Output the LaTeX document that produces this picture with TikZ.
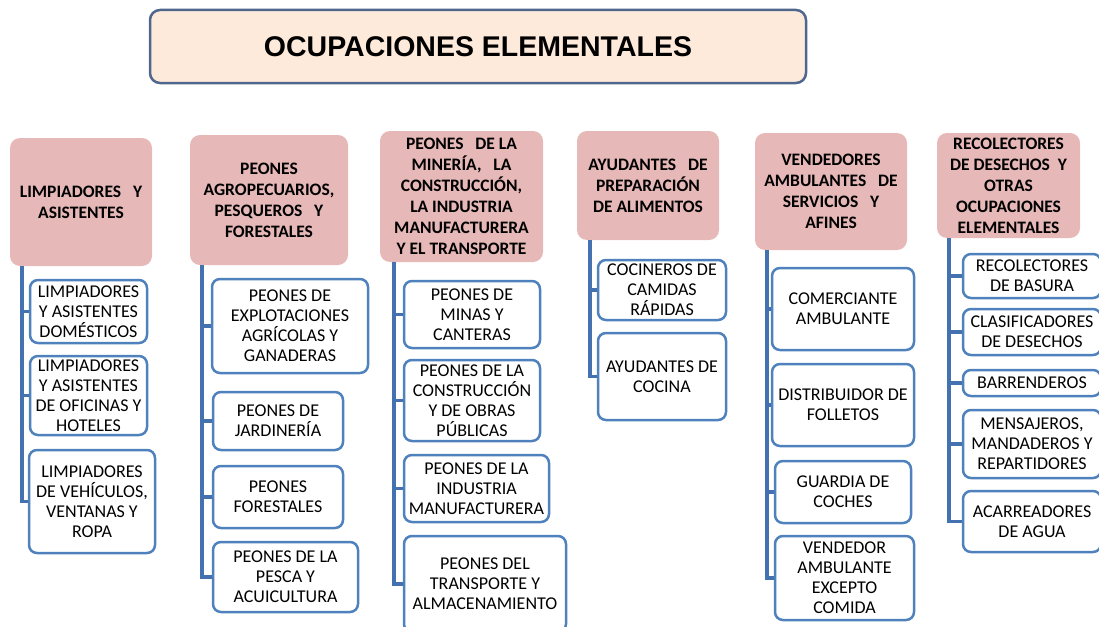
\documentclass[tikz,border=0pt]{standalone}
\usepackage{fontspec}
\setmainfont{Carlito}
\newfontfamily\titlefont{Liberation Sans}
\usetikzlibrary{positioning}
\definecolor{titlefill}{RGB}{253,234,218}
\definecolor{titleline}{RGB}{79,103,140}
\definecolor{headfill}{RGB}{230,184,183}
\definecolor{boxline}{RGB}{79,129,189}
\definecolor{trunkline}{RGB}{68,114,176}

\begin{document}
\begin{tikzpicture}[x=1pt,y=-1pt,
  titlebox/.style={draw=titleline,line width=2.5pt,fill=titlefill,rounded corners=10pt,
    font=\titlefont\bfseries\fontsize{28.5}{32}\selectfont},
  headbox/.style={fill=headfill,rounded corners=10pt,align=center,inner sep=2pt,
    font=\bfseries\fontsize{17.5}{21}\selectfont},
  leafbox/.style={draw=boxline,line width=2.5pt,fill=white,rounded corners=8pt,align=center,
    inner sep=1pt,font=\fontsize{18}{20}\selectfont},
  trunk/.style={draw=trunkline,line width=3.5pt}]
  \useasboundingbox (0,0) rectangle (1099,626);
  \clip (0,0) rectangle (1099,626);

  \node[titlebox,minimum width=656pt,minimum height=73pt] (title) at (478,46.5) {OCUPACIONES ELEMENTALES};

  % limpiadores
  \node[headbox,minimum width=142pt,minimum height=128pt] (h1) at (81,202) {LIMPIADORES\ \ \ Y\\ASISTENTES};
  \node[leafbox,minimum width=117pt,minimum height=63pt] (c1a) at (88.5,311.5) {LIMPIADORES\\Y ASISTENTES\\DOMÉSTICOS};
  \node[leafbox,minimum width=117pt,minimum height=79pt] (c1b) at (88.5,395.5) {LIMPIADORES\\Y ASISTENTES\\DE OFICINAS Y\\HOTELES};
  \node[leafbox,minimum width=126pt,minimum height=103pt] (c1c) at (92,501.5) {LIMPIADORES\\DE VEHÍCULOS,\\VENTANAS Y\\ROPA};

  % peones agropecuarios
  \node[headbox,minimum width=158pt,minimum height=130pt] (h2) at (269,200) {PEONES\\AGROPECUARIOS,\\PESQUEROS\ \ \ Y\\FORESTALES};
  \node[leafbox,minimum width=156pt,minimum height=94pt] (c2a) at (290,326) {PEONES DE\\EXPLOTACIONES\\AGRÍCOLAS Y\\GANADERAS};
  \node[leafbox,minimum width=130pt,minimum height=58pt] (c2b) at (278,421) {PEONES DE\\JARDINERÍA};
  \node[leafbox,minimum width=130pt,minimum height=62pt] (c2c) at (278,497) {PEONES\\FORESTALES};
  \node[leafbox,minimum width=145pt,minimum height=70pt] (c2d) at (285.5,577) {PEONES DE LA\\PESCA Y\\ACUICULTURA};

  % peones mineria
  \node[headbox,minimum width=163pt,minimum height=131pt] (h3) at (461.5,196.5) {PEONES\ \ \ DE LA\\MINERÍA,\ \ \ LA\\CONSTRUCCIÓN,\\LA INDUSTRIA\\MANUFACTURERA\\Y EL TRANSPORTE};
  \node[leafbox,minimum width=136pt,minimum height=67pt] (c3a) at (472,314.5) {PEONES DE\\MINAS Y\\CANTERAS};
  \node[leafbox,minimum width=136pt,minimum height=81pt] (c3b) at (472,400.5) {PEONES DE LA\\CONSTRUCCIÓN\\Y DE OBRAS\\PÚBLICAS};
  \node[leafbox,minimum width=145pt,minimum height=67pt] (c3c) at (476.5,488.5) {PEONES DE LA\\INDUSTRIA\\MANUFACTURERA};
  \node[leafbox,minimum width=162pt,minimum height=96pt] (c3d) at (485,584) {PEONES DEL\\TRANSPORTE Y\\ALMACENAMIENTO};

  % ayudantes
  \node[headbox,minimum width=142pt,minimum height=109pt] (h4) at (648,185.5) {AYUDANTES\ \ \ DE\\PREPARACIÓN\\DE ALIMENTOS};
  \node[leafbox,minimum width=128pt,minimum height=60pt] (c4a) at (662,290) {COCINEROS DE\\CAMIDAS\\RÁPIDAS};
  \node[leafbox,minimum width=128pt,minimum height=87pt] (c4b) at (662,376.5) {AYUDANTES DE\\COCINA};

  % vendedores
  \node[headbox,minimum width=152pt,minimum height=117pt] (h5) at (831,191.5) {VENDEDORES\\AMBULANTES\ \ \ DE\\SERVICIOS\ \ \ Y\\AFINES};
  \node[leafbox,minimum width=142pt,minimum height=82pt] (c5a) at (843,309) {COMERCIANTE\\AMBULANTE};
  \node[leafbox,minimum width=142pt,minimum height=82pt] (c5b) at (843,405) {DISTRIBUIDOR DE\\FOLLETOS};
  \node[leafbox,minimum width=136pt,minimum height=62pt] (c5c) at (843,492) {GUARDIA DE\\COCHES};
  \node[leafbox,minimum width=139pt,minimum height=84pt] (c5d) at (844.5,578) {VENDEDOR\\AMBULANTE\\EXCEPTO\\COMIDA};

  % recolectores
  \node[headbox,minimum width=143pt,minimum height=105pt] (h6) at (1008.5,185.5) {RECOLECTORES\\DE DESECHOS\ \ Y\\OTRAS\\OCUPACIONES\\ELEMENTALES};
  \node[leafbox,minimum width=138pt,minimum height=44pt] (c6a) at (1032,276) {RECOLECTORES\\DE BASURA};
  \node[leafbox,minimum width=138pt,minimum height=46pt] (c6b) at (1032,332) {CLASIFICADORES\\DE DESECHOS};
  \node[leafbox,minimum width=138pt,minimum height=26pt] (c6c) at (1032,383) {BARRENDEROS};
  \node[leafbox,minimum width=138pt,minimum height=68pt] (c6d) at (1032,444) {MENSAJEROS,\\MANDADEROS Y\\REPARTIDORES};
  \node[leafbox,minimum width=138pt,minimum height=61pt] (c6e) at (1032,521.5) {ACARREADORES\\DE AGUA};

  \foreach \c in {c1a,c1b,c1c} \draw[trunk] ([xshift=12pt]h1.south west) |- (\c.west);
  \foreach \c in {c2a,c2b,c2c,c2d} \draw[trunk] ([xshift=12pt]h2.south west) |- (\c.west);
  \foreach \c in {c3a,c3b,c3c,c3d} \draw[trunk] ([xshift=14pt]h3.south west) |- (\c.west);
  \foreach \c in {c4a,c4b} \draw[trunk] ([xshift=13pt]h4.south west) |- (\c.west);
  \foreach \c in {c5a,c5b,c5c,c5d} \draw[trunk] ([xshift=12pt]h5.south west) |- (\c.west);
  \foreach \c in {c6a,c6b,c6c,c6d,c6e} \draw[trunk] ([xshift=12pt]h6.south west) |- (\c.west);
\end{tikzpicture}
\end{document}
